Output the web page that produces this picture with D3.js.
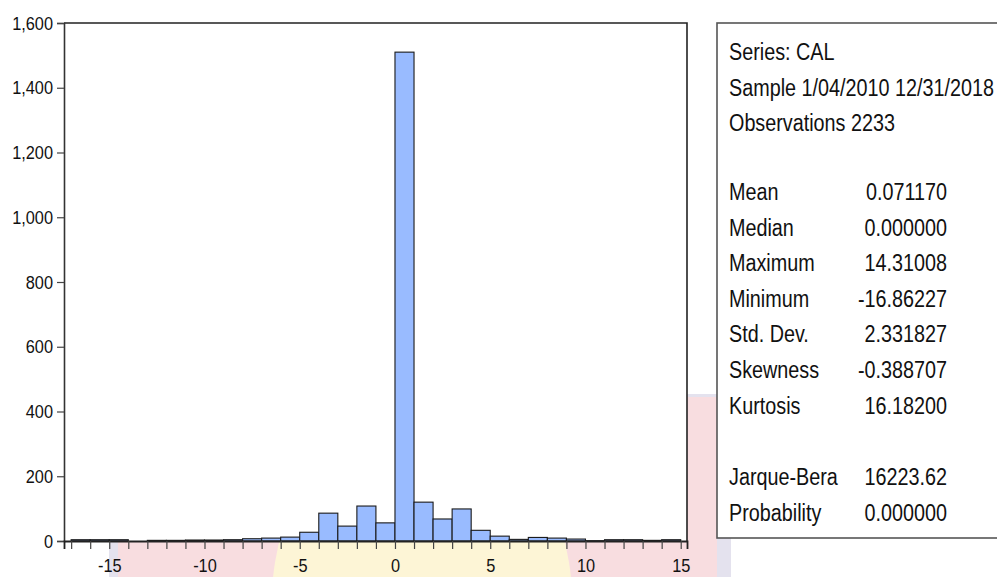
<!DOCTYPE html>
<html>
<head>
<meta charset="utf-8">
<script src="https://cdn.jsdelivr.net/npm/d3@7"></script>
<style>
  body { margin: 0; background: #fff; }
  svg { display: block; font-family: "Liberation Sans", Arial, sans-serif; }
</style>
</head>
<body>
<svg id="chart" width="997" height="577"></svg>
<script>
// Histogram of CAL returns: lower bin edges (bin width 1) and counts
const binLower  = [-17, -16, -15, -14, -13, -12, -11, -10, -9, -8, -7, -6, -5, -4, -3, -2, -1,
                   0, 1, 2, 3, 4, 5, 6, 7, 8, 9, 10, 11, 12, 13, 14];
const binCounts = [4, 4, 4, 0, 2, 2, 3, 3, 4, 7, 9, 12, 27, 86, 46, 108, 56,
                   1510, 120, 68, 99, 33, 15, 5, 11, 9, 6, 1, 4, 4, 2, 4];
const binWidth = 1;

// Axis ticks
const yTicks = [0, 200, 400, 600, 800, 1000, 1200, 1400, 1600];
const xMinorTicks = [-17, -16, -15, -14, -13, -12, -11, -10, -9, -8, -7, -6, -5, -4, -3, -2, -1,
                     0, 1, 2, 3, 4, 5, 6, 7, 8, 9, 10, 11, 12, 13, 14, 15];
const xTickLabels = [-15, -10, -5, 0, 5, 10, 15];

// Descriptive statistics panel
const headerLines = ["Series: CAL", "Sample 1/04/2010 12/31/2018", "Observations 2233"];
const statNames   = ["Mean", "Median", "Maximum", "Minimum", "Std. Dev.", "Skewness", "Kurtosis"];
const statValues  = ["0.071170", "0.000000", "14.31008", "-16.86227", "2.331827", "-0.388707", "16.18200"];
const testNames   = ["Jarque-Bera", "Probability"];
const testValues  = ["16223.62", "0.000000"];

const svg = d3.select("#chart");

// Faint backdrop emblem behind the lower part of the figure
const back = svg.append("g");
back.append("rect").attr("x", 109).attr("y", 394).attr("width", 622).attr("height", 200).attr("fill", "#e4e2ee");
back.append("rect").attr("x", 118).attr("y", 397).attr("width", 599).attr("height", 200).attr("fill", "#f8dde0");
back.append("ellipse").attr("cx", 422).attr("cy", 600).attr("rx", 150).attr("ry", 190).attr("fill", "#fdf5d6");

// Plot geometry
const plot = { left: 64, top: 23, right: 687, bottom: 541 };
const x = d3.scaleLinear().domain([-17.375, 15.33]).range([plot.left, plot.right]);
const y = d3.scaleLinear().domain([0, 1600]).range([plot.bottom, plot.top]);

// Plot background
svg.append("rect")
  .attr("x", plot.left).attr("y", plot.top)
  .attr("width", plot.right - plot.left).attr("height", plot.bottom - plot.top)
  .attr("fill", "#fff");

// Bars
const bins = binLower.map((lo, i) => ({ lo, hi: lo + binWidth, n: binCounts[i] })).filter(d => d.n > 0);
svg.append("g").selectAll("rect").data(bins).join("rect")
  .attr("x", d => x(d.lo))
  .attr("width", d => x(d.hi) - x(d.lo))
  .attr("y", d => y(d.n))
  .attr("height", d => y(0) - y(d.n))
  .attr("fill", "#99bbff")
  .attr("stroke", "#1a1a1a")
  .attr("stroke-width", 1.1);

// Frame (top and right)
svg.append("path")
  .attr("d", `M${plot.left},${plot.top}H${plot.right}V${plot.bottom}`)
  .attr("fill", "none").attr("stroke", "#222").attr("stroke-width", 1.6);

const tickFS = 19, tickSX = 0.86;

// Y axis
const yAxis = svg.append("g")
  .attr("transform", `translate(${plot.left},0)`)
  .call(d3.axisLeft(y).tickValues(yTicks).tickFormat(d3.format(",")).tickSize(7).tickPadding(4));
yAxis.select(".domain").attr("stroke", "#333").attr("stroke-width", 1.6);
yAxis.selectAll(".tick line").attr("stroke", "#444").attr("stroke-width", 1.2);
yAxis.selectAll(".tick text")
  .attr("font-size", tickFS).attr("fill", "#111")
  .attr("font-family", "'Liberation Sans', Arial, sans-serif")
  .attr("x", -11 / tickSX)
  .attr("transform", `scale(${tickSX},1)`);

// X axis
const xAxis = svg.append("g")
  .attr("transform", `translate(0,${plot.bottom})`)
  .call(d3.axisBottom(x).tickValues(xMinorTicks)
    .tickFormat(d => xTickLabels.includes(d) ? String(d) : "")
    .tickSize(8).tickPadding(10));
xAxis.select(".domain").attr("stroke", "#222").attr("stroke-width", 1.8);
xAxis.selectAll(".tick line").attr("stroke", "#444").attr("stroke-width", 1.2);
xAxis.selectAll(".tick text")
  .attr("font-size", tickFS).attr("fill", "#111")
  .attr("font-family", "'Liberation Sans', Arial, sans-serif")
  .attr("transform", `scale(${tickSX},1)`);

// Statistics panel
const panel = svg.append("g");
panel.append("rect")
  .attr("x", 717).attr("y", 23).attr("width", 300).attr("height", 515)
  .attr("fill", "#fff").attr("stroke", "#555").attr("stroke-width", 1.6);

const fs = 23, sx = 0.86, step = 35.55;
const labelX = 729, valueRight = 947;
function put(txt, px, cy, anchor) {
  panel.append("g")
    .attr("transform", `translate(${px},${cy + fs * 0.36}) scale(${sx},1)`)
    .append("text")
    .attr("text-anchor", anchor)
    .attr("font-size", fs)
    .attr("fill", "#111")
    .text(txt);
}
headerLines.forEach((t, i) => put(t, labelX, 52 + i * step, "start"));
statNames.forEach((t, i) => {
  put(t, labelX, 192 + i * step, "start");
  put(statValues[i], valueRight, 192 + i * step, "end");
});
testNames.forEach((t, i) => {
  put(t, labelX, 477 + i * step, "start");
  put(testValues[i], valueRight, 477 + i * step, "end");
});
</script>
</body>
</html>
